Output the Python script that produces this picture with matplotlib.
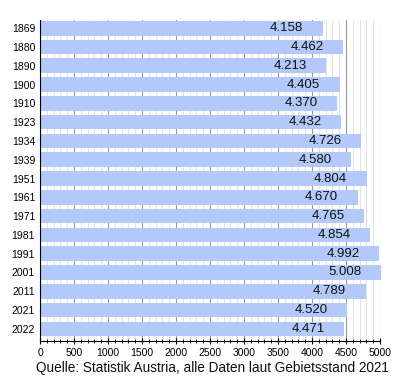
import matplotlib
matplotlib.use("Agg")
import matplotlib.pyplot as plt
from matplotlib.ticker import MultipleLocator

years = ["1869", "1880", "1890", "1900", "1910", "1923", "1934", "1939", "1951",
         "1961", "1971", "1981", "1991", "2001", "2011", "2021", "2022"]
values = [4158, 4462, 4213, 4405, 4370, 4432, 4726, 4580, 4804,
          4670, 4765, 4854, 4992, 5008, 4789, 4520, 4471]
labels = ["4.158", "4.462", "4.213", "4.405", "4.370", "4.432", "4.726", "4.580", "4.804",
          "4.670", "4.765", "4.854", "4.992", "5.008", "4.789", "4.520", "4.471"]

plt.rcParams['font.family'] = ['Liberation Sans', 'DejaVu Sans']

fig = plt.figure(figsize=(4, 3.8), dpi=100)
ax = fig.add_axes([0.1, 0.103, 0.85, 0.844])

pos = list(range(len(years)))
ax.barh(pos, values, height=0.78, color="#b3c9fa", zorder=2, clip_on=False)

for p, v, l in zip(pos, values, labels):
    ax.annotate(l, xy=(v, p), xytext=(-14, 0), textcoords="offset points",
                ha="right", va="center", fontsize=9.5, color="#111111", zorder=3,
                annotation_clip=False)

ax.set_xlim(0, 5000)
ax.set_ylim(16.64, -0.43)
ax.set_yticks(pos)
ax.set_yticklabels(years, fontsize=7.5)
ax.xaxis.set_major_locator(MultipleLocator(500))
ax.xaxis.set_minor_locator(MultipleLocator(100))
ax.tick_params(axis='x', which='major', labelsize=7.5, length=4, direction='inout', width=0.8)
ax.tick_params(axis='x', which='minor', length=2.5, direction='inout', width=0.6)
ax.tick_params(axis='y', length=0)

ax.grid(axis='x', which='major', color="#999999", linewidth=0.8, zorder=0)
ax.grid(axis='x', which='minor', color="#dddddd", linewidth=0.6, zorder=0)
ax.set_axisbelow(True)

for s in ["top", "right"]:
    ax.spines[s].set_visible(False)
ax.spines["left"].set_color("black")
ax.spines["bottom"].set_color("black")

fig.text(0.53, 0.012, "Quelle: Statistik Austria, alle Daten laut Gebietsstand 2021",
         ha="center", va="bottom", fontsize=9.8, color="#111111")

fig.savefig("out.png", dpi=100)
